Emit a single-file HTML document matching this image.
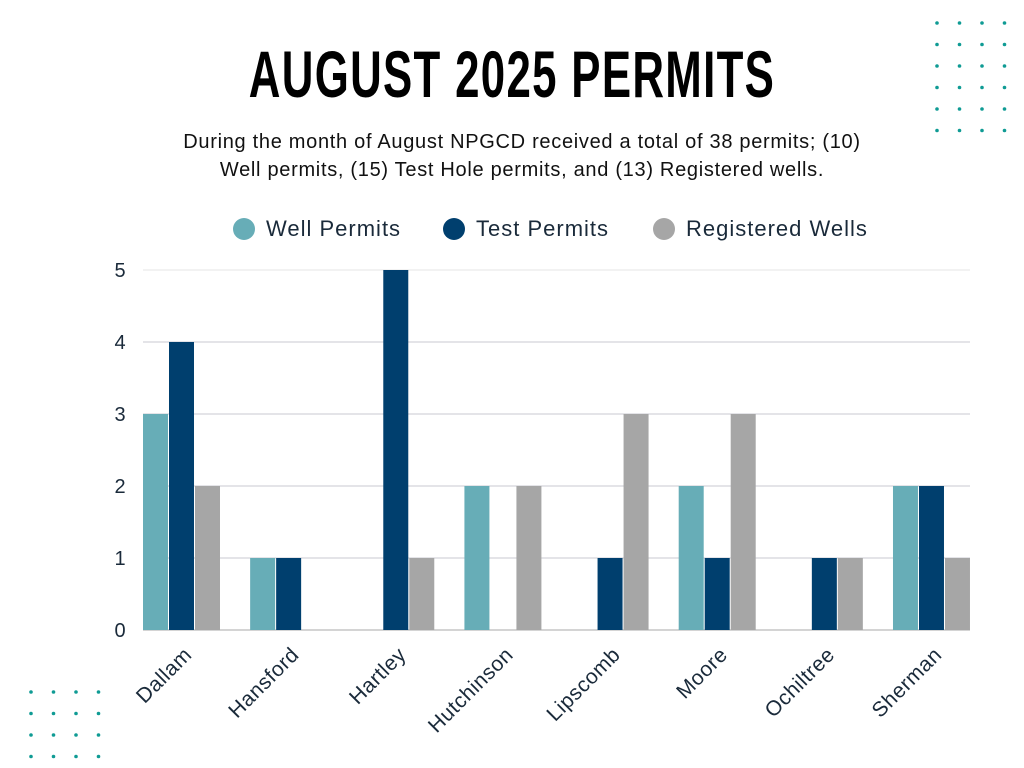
<!DOCTYPE html>
<html><head><meta charset="utf-8"><style>
body{margin:0;width:1024px;height:768px;background:#fff;overflow:hidden;font-family:"Liberation Sans",sans-serif;}
#title{position:absolute;left:0;top:40px;width:1024px;text-align:center;font-family:"Liberation Sans Narrow","Liberation Sans",sans-serif;font-weight:bold;font-size:60px;letter-spacing:1.8px;color:#000;transform:scale(0.73,1.1);}
#sub{position:absolute;left:0;top:128px;width:1044px;text-align:center;font-size:20px;letter-spacing:0.7px;line-height:28px;color:#111;}
</style></head><body>
<div id="title">AUGUST 2025 PERMITS</div>
<div id="sub">During the month of August NPGCD received a total of 38 permits; (10)<br>Well permits, (15) Test Hole permits, and (13) Registered wells.</div>
<svg id="chart" width="1024" height="768" style="position:absolute;left:0;top:0"></svg>
<script>
const categories=["Dallam","Hansford","Hartley","Hutchinson","Lipscomb","Moore","Ochiltree","Sherman"];
const wellPermits=[3,1,0,2,0,2,0,2];
const testPermits=[4,1,5,0,1,1,1,2];
const registeredWells=[2,0,1,2,3,3,1,1];
const yTicks=[0,1,2,3,4,5];
const seriesNames=["Well Permits","Test Permits","Registered Wells"];
const colors=["#67adb7","#003f6e","#a6a6a6"];
const NS="http://www.w3.org/2000/svg";
const svg=document.getElementById('chart');
const x0=143,x1=970,y0=630,yTop=270,yMax=5,groupStep=107.14,barW=25,barStep=26;
const y=v=>y0-(v/yMax)*(y0-yTop);
const gx=i=>x0+i*groupStep;
function mk(t,a){const e=document.createElementNS(NS,t);for(const k in a)e.setAttribute(k,a[k]);svg.appendChild(e);return e;}
for(let r=0;r<6;r++)for(let c=0;c<4;c++){const d=mk('circle',{cx:937+c*22.5,cy:23+r*21.5,r:1.8,fill:'#0f9b94'});

}
for(let r=0;r<4;r++)for(let c=0;c<4;c++){const d=mk('circle',{cx:31+c*22.5,cy:692+r*21.5,r:1.8,fill:'#0f9b94'});

}
yTicks.forEach(t=>{
const l=mk('line',{x1:x0,x2:x1,y1:y(t),y2:y(t),stroke:t==0?'#aaa':(t==yMax?'#e6e6e6':'#c8c8d0'),'stroke-width':1});


const tx=mk('text',{x:120,y:y(t)+7,'text-anchor':'middle','font-size':20,fill:'#1a2a3a'});tx.textContent=t;


});
const series=[wellPermits,testPermits,registeredWells];
categories.forEach((c,i)=>{
series.forEach((s,j)=>{if(s[i]<=0)return;
const r=mk('rect',{x:gx(i)+j*barStep,y:y(s[i]),width:barW,height:y0-y(s[i]),fill:colors[j]});


});
const cx=gx(i)+36,ty=656;
const t=mk('text',{x:cx+14,y:ty,'text-anchor':'end','font-size':21,'letter-spacing':0.5,fill:'#1a2a3a',transform:`rotate(-45 ${cx+14} ${ty})`});t.textContent=c;


});
const lx=[244,454,664];
seriesNames.forEach((n,j)=>{
const d=mk('circle',{cx:lx[j],cy:229,r:11,fill:colors[j]});


const t=mk('text',{x:lx[j]+22,y:236,'font-size':22,'letter-spacing':1,fill:'#1a2a3a'});t.textContent=n;


});
</script>
</body></html>
